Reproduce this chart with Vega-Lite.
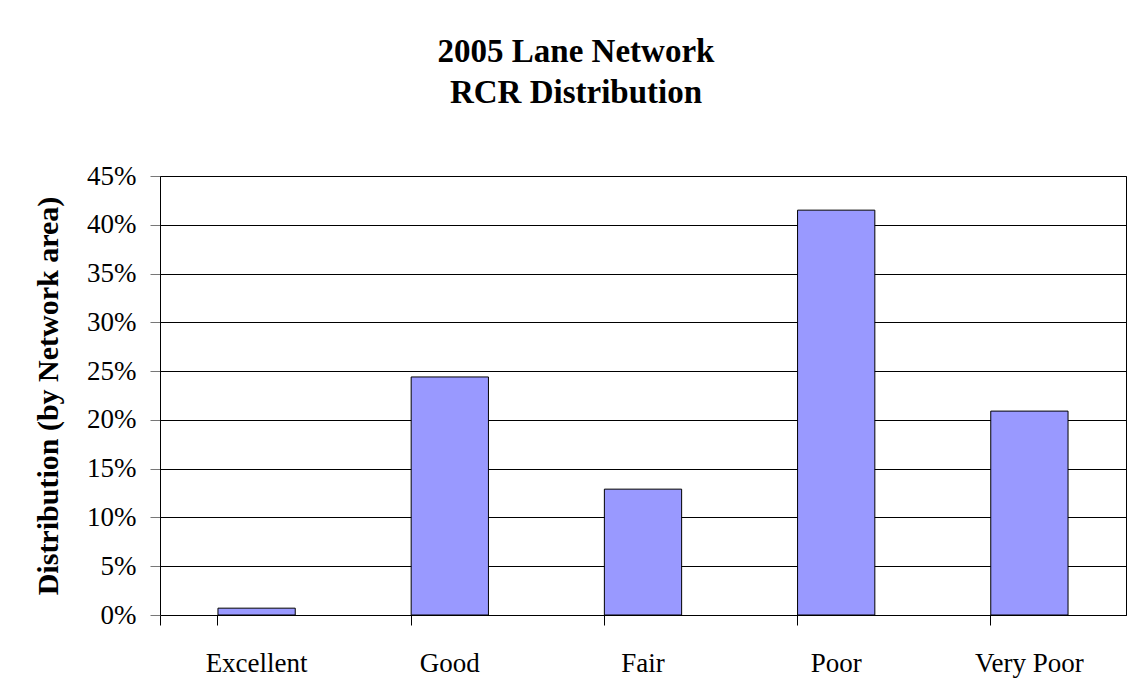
{
  "$schema": "https://vega.github.io/schema/vega-lite/v6.json",
  "width": 966,
  "height": 439,
  "autosize": "none",
  "padding": {"left": 160, "top": 176, "right": 9, "bottom": 84},
  "background": "white",
  "title": {
    "text": ["2005 Lane Network", "RCR Distribution"],
    "font": "Liberation Serif",
    "fontSize": 33,
    "fontWeight": "bold",
    "color": "black",
    "anchor": "middle",
    "frame": "group",
    "dx": -67,
    "offset": 52,
    "lineHeight": 41
  },
  "data": {
    "values": [
      {"category": "Excellent", "share": 0.007},
      {"category": "Good", "share": 0.244},
      {"category": "Fair", "share": 0.129},
      {"category": "Poor", "share": 0.415},
      {"category": "Very Poor", "share": 0.209}
    ]
  },
  "mark": {"type": "bar", "color": "#9999FF", "stroke": "black", "strokeWidth": 1},
  "encoding": {
    "x": {
      "field": "category",
      "type": "nominal",
      "sort": null,
      "scale": {"paddingInner": 0.6, "paddingOuter": 0.3},
      "axis": {
        "title": null,
        "labelAngle": 0,
        "labelFont": "Liberation Serif",
        "labelFontSize": 27,
        "labelColor": "black",
        "labelPadding": 25,
        "bandPosition": 0,
        "tickExtra": true,
        "tickSize": 10,
        "tickColor": "black",
        "domainColor": "black",
        "grid": false
      }
    },
    "y": {
      "field": "share",
      "type": "quantitative",
      "scale": {"domain": [0, 0.45], "nice": false},
      "axis": {
        "values": [0, 0.05, 0.1, 0.15, 0.2, 0.25, 0.3, 0.35, 0.4, 0.45],
        "format": ".0%",
        "title": "Distribution (by Network area)",
        "titleFont": "Liberation Serif",
        "titleFontSize": 30,
        "titleFontWeight": "bold",
        "titleColor": "black",
        "titlePadding": 23,
        "labelFont": "Liberation Serif",
        "labelFontSize": 27,
        "labelColor": "black",
        "labelPadding": 14,
        "tickSize": 10,
        "tickColor": "#777777",
        "domainColor": "black",
        "grid": true,
        "gridColor": "black",
        "gridOpacity": 1,
        "gridWidth": 1
      }
    }
  },
  "config": {
    "view": {"stroke": "black", "strokeWidth": 1}
  }
}
